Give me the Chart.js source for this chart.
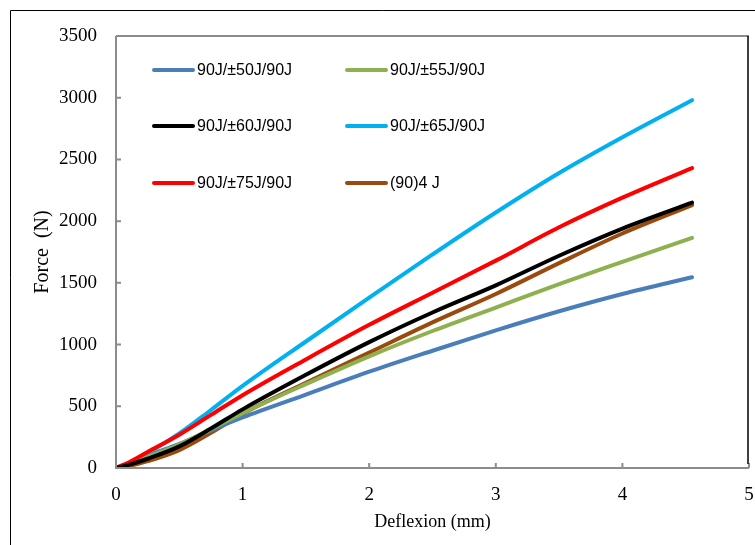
<!DOCTYPE html>
<html>
<head>
<meta charset="utf-8">
<script src="https://cdn.jsdelivr.net/npm/chart.js@4.4.1/dist/chart.umd.min.js"></script>
<style>
  html, body { margin: 0; padding: 0; background: #fff; }
  canvas { display: block; }
</style>
</head>
<body>
<canvas id="forceChart" width="755" height="545"></canvas>
<script>
// Deflexion values (mm) shared by all curves
var deflexion = [0, 0.1, 0.25, 0.5, 0.75, 1, 1.5, 2, 2.5, 3, 3.5, 4, 4.55];

// Force values (N) for each layup
var force50 = [0, 35, 100, 195, 305, 410, 595, 780, 950, 1115, 1270, 1410, 1545];
var force55 = [0, 30, 90, 190, 315, 445, 680, 905, 1110, 1300, 1490, 1670, 1865];
var force60 = [0, 25, 75, 175, 320, 475, 755, 1020, 1260, 1480, 1720, 1940, 2150];
var force65 = [0, 40, 120, 280, 470, 665, 1025, 1380, 1730, 2070, 2390, 2680, 2980];
var force75 = [0, 45, 130, 270, 430, 590, 880, 1160, 1420, 1680, 1950, 2190, 2430];
var force90 = [0, 15, 55, 145, 285, 440, 690, 935, 1180, 1410, 1660, 1900, 2130];

var seriesLabels = ['90J/±50J/90J', '90J/±55J/90J', '90J/±60J/90J', '90J/±65J/90J', '90J/±75J/90J', '(90)4 J'];
var seriesValues = [force50, force55, force60, force65, force75, force90];
var seriesColors = ['#4a7ebb', '#8fb04e', '#000000', '#00b0f0', '#ff0000', '#9a4a0c'];

// Draw order: lower order is drawn on top
var drawOrder = [4, 2, 0, 3, 1, 5];

function toPoints(values) {
    return values.map(function (v, i) { return { x: deflexion[i], y: v }; });
}

var datasets = seriesLabels.map(function (label, i) {
    return {
        label: label,
        data: toPoints(seriesValues[i]),
        borderColor: seriesColors[i],
        backgroundColor: seriesColors[i],
        borderWidth: 4,
        borderCapStyle: 'round',
        borderJoinStyle: 'round',
        pointRadius: 0,
        cubicInterpolationMode: 'monotone',
        order: drawOrder[i]
    };
});

// Frame, plot border, inner tick marks and legend
var decorations = {
    id: 'decorations',
    beforeDraw: function (chart) {
        var ctx = chart.ctx;
        ctx.save();
        ctx.fillStyle = '#fff';
        ctx.fillRect(0, 0, chart.width, chart.height);
        // outer frame (only top and left visible)
        ctx.strokeStyle = '#000';
        ctx.lineWidth = 1;
        ctx.beginPath();
        ctx.moveTo(10.5, chart.height);
        ctx.lineTo(10.5, 10.5);
        ctx.lineTo(chart.width, 10.5);
        ctx.stroke();
        ctx.restore();
    },
    afterDatasetsDraw: function (chart) {
        var ctx = chart.ctx;
        var a = chart.chartArea;
        var xs = chart.scales.x, ys = chart.scales.y;
        ctx.save();
        ctx.lineWidth = 2;
        ctx.strokeStyle = '#8c8c8c';
        ctx.beginPath();
        ctx.moveTo(a.left, a.top);
        ctx.lineTo(a.right, a.top);
        ctx.moveTo(a.left, a.top);
        ctx.lineTo(a.left, a.bottom);
        ctx.lineTo(a.right, a.bottom);
        xs.ticks.forEach(function (t) {
            var px = xs.getPixelForValue(t.value);
            ctx.moveTo(px, a.bottom);
            ctx.lineTo(px, a.bottom - 5);
        });
        ys.ticks.forEach(function (t) {
            var py = ys.getPixelForValue(t.value);
            ctx.moveTo(a.left, py);
            ctx.lineTo(a.left + 5, py);
        });
        ctx.stroke();
        ctx.strokeStyle = '#000';
        ctx.lineWidth = 1.5;
        ctx.beginPath();
        ctx.moveTo(a.right - 1, a.top);
        ctx.lineTo(a.right - 1, a.bottom - 4);
        ctx.stroke();

        // legend, two columns
        var colX = [153, 346];
        var rowY = [70, 126, 183];
        ctx.font = '16px "Liberation Sans", Arial, sans-serif';
        ctx.textBaseline = 'middle';
        ctx.textAlign = 'left';
        chart.data.datasets.forEach(function (ds, i) {
            var x = colX[i % 2];
            var y = rowY[Math.floor(i / 2)];
            ctx.strokeStyle = ds.borderColor;
            ctx.lineWidth = 4;
            ctx.lineCap = 'round';
            ctx.beginPath();
            ctx.moveTo(x + 1, y);
            ctx.lineTo(x + 40, y);
            ctx.stroke();
            ctx.fillStyle = '#000';
            ctx.fillText(ds.label, x + 44, y + 1);
        });
        ctx.restore();
    }
};

var serif = '"Liberation Serif", "Times New Roman", serif';

function plainNumber(value) {
    return String(value);
}

new Chart(document.getElementById('forceChart').getContext('2d'), {
    type: 'line',
    data: { datasets: datasets },
    options: {
        responsive: false,
        animation: false,
        layout: { padding: { top: 36, right: 6, left: 0, bottom: 0 } },
        plugins: {
            legend: { display: false },
            tooltip: { enabled: false }
        },
        scales: {
            x: {
                type: 'linear',
                min: 0,
                max: 5,
                ticks: { stepSize: 1, padding: 8, color: '#000', font: { family: serif, size: 19 }, callback: plainNumber },
                grid: { display: false },
                border: { display: false },
                title: { display: true, text: 'Deflexion (mm)', color: '#000', font: { family: serif, size: 18 }, padding: { top: 0, bottom: 12 } },
                afterFit: function (scale) {
                    scale.height = 77;
                    scale.paddingLeft = 0;
                    scale.paddingRight = 0;
                }
            },
            y: {
                min: 0,
                max: 3500,
                ticks: { stepSize: 500, padding: 11, color: '#000', font: { family: serif, size: 19 }, callback: plainNumber },
                grid: { display: false },
                border: { display: false },
                title: { display: true, text: 'Force  (N)', color: '#000', font: { family: serif, size: 20 }, padding: { top: 31, bottom: 0 } },
                afterFit: function (scale) {
                    scale.width = 116;
                    scale.paddingTop = 0;
                    scale.paddingBottom = 0;
                }
            }
        }
    },
    plugins: [decorations]
});
</script>
</body>
</html>
